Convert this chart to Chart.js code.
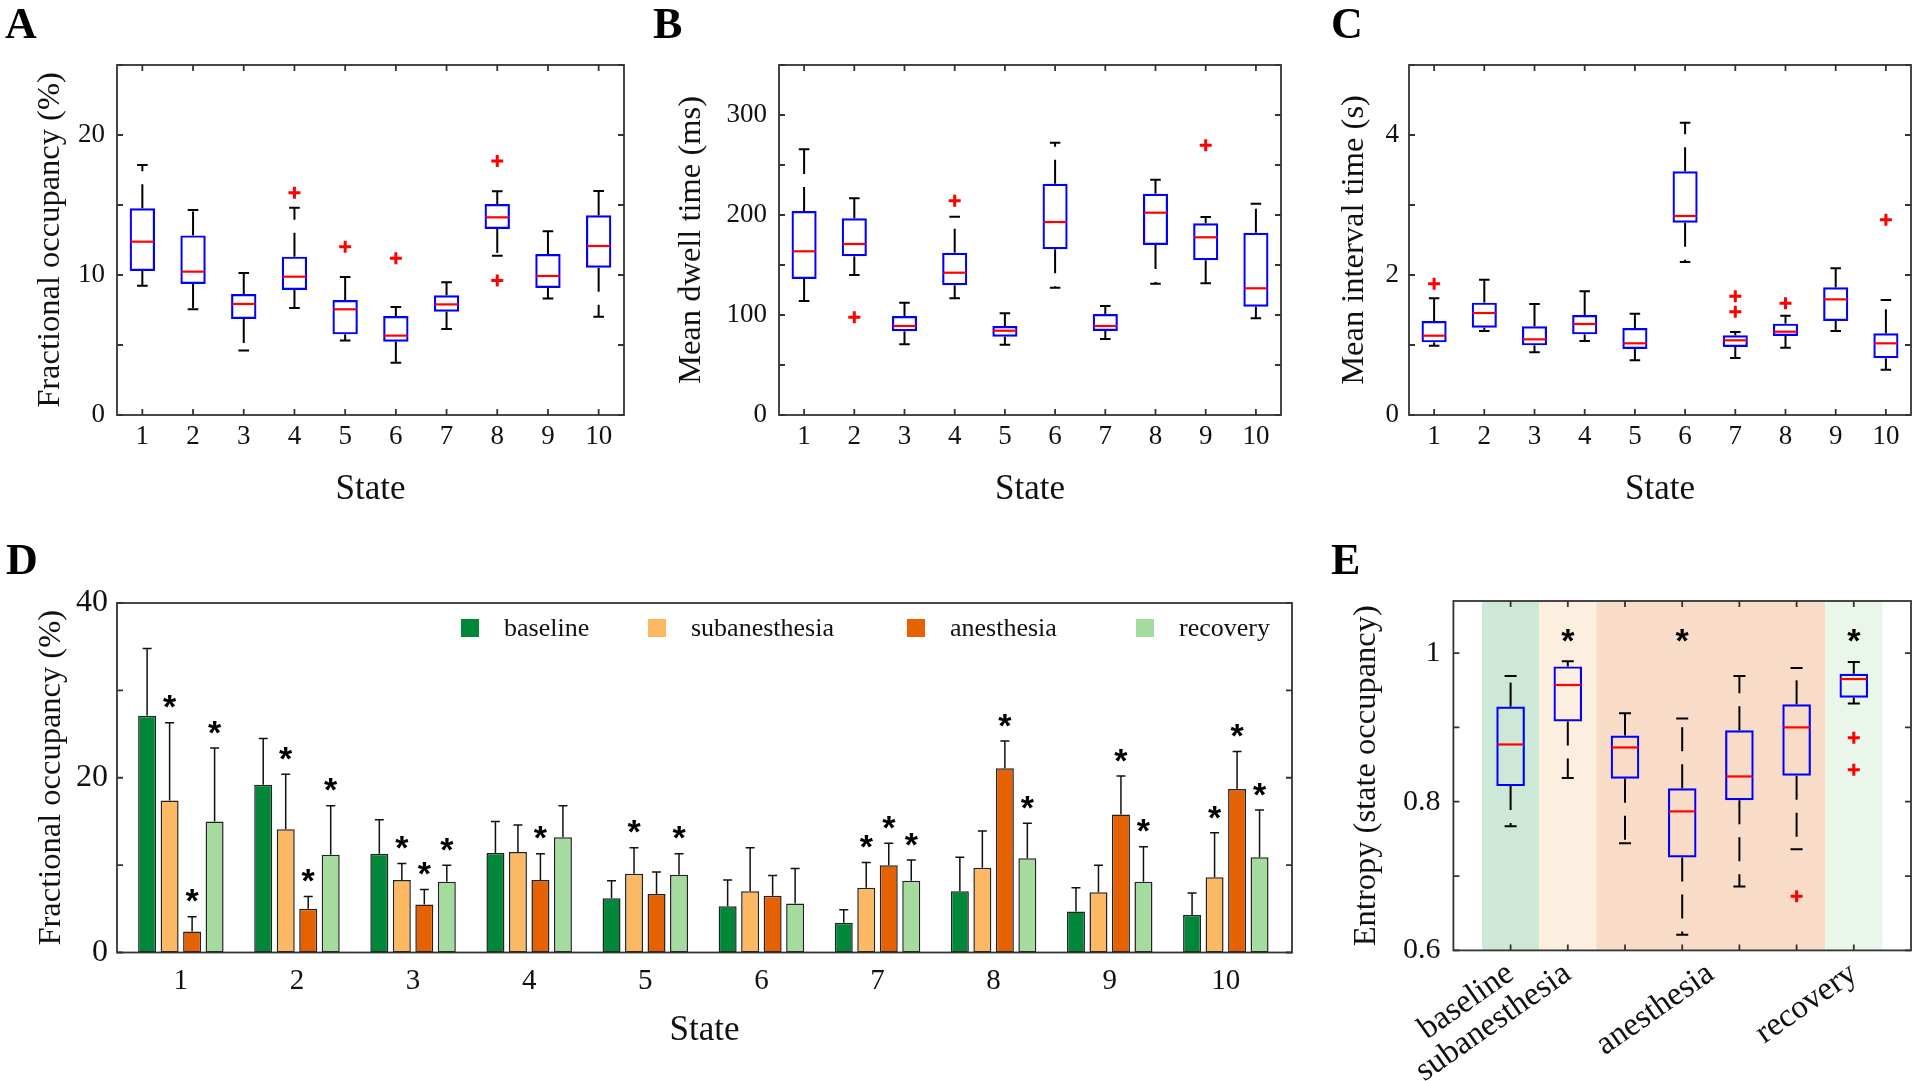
<!DOCTYPE html>
<html><head><meta charset="utf-8">
<script src="https://cdn.jsdelivr.net/npm/chart.js@4.4.1/dist/chart.umd.min.js"></script>
<style>
html,body{margin:0;padding:0;background:#fff;}
#wrap{position:relative;width:1920px;height:1081px;overflow:hidden;background:#fff;}
canvas{position:absolute;}
.lbl{position:absolute;font:bold 44px 'Liberation Serif','Times New Roman',serif;line-height:44px;color:#000;}
</style></head><body>
<div id="wrap">
<canvas id="cA" width="650" height="520" style="left:0px;top:0px"></canvas>
<canvas id="cB" width="640" height="520" style="left:650px;top:0px"></canvas>
<canvas id="cC" width="630" height="520" style="left:1290px;top:0px"></canvas>
<canvas id="cD" width="1300" height="561" style="left:0px;top:520px"></canvas>
<canvas id="cE" width="620" height="561" style="left:1300px;top:520px"></canvas>
<div class="lbl" style="left:5px;top:2px">A</div>
<div class="lbl" style="left:653px;top:2px">B</div>
<div class="lbl" style="left:1331px;top:2px">C</div>
<div class="lbl" style="left:6px;top:538px">D</div>
<div class="lbl" style="left:1331px;top:538px">E</div>
</div>
<script>
// ---------------- data ----------------
const states = [1, 2, 3, 4, 5, 6, 7, 8, 9, 10];

// A: fractional occupancy (%)
const occLo  = [9.24, 7.55, 4.60, 7.64, 5.33, 3.74, 6.14, 11.38, 8.33, 7.02];
const occQ1  = [10.29, 9.36, 6.86, 8.93, 5.76, 5.24, 7.38, 13.29, 9.07, 10.52];
const occMed = [12.38, 10.24, 7.93, 9.88, 7.55, 5.67, 7.90, 14.12, 9.93, 12.07];
const occQ3  = [14.76, 12.83, 8.64, 11.31, 8.21, 7.07, 8.55, 15.07, 11.50, 14.26];
const occHi  = [17.86, 14.64, 10.14, 14.81, 9.86, 7.71, 9.48, 15.98, 13.12, 16.00];
const occOutX = [4, 5, 6, 8, 8];
const occOutY = [15.88, 12.02, 11.19, 18.14, 9.60];

// B: mean dwell time (ms)
const dwellLo  = [114, 140, 70.7, 116.7, 70.3, 127.3, 76, 131.3, 131.7, 96.7];
const dwellQ1  = [136, 158.7, 83.7, 129.7, 78.3, 165.7, 84, 170, 154.7, 108.3];
const dwellMed = [163.7, 171, 89, 142.3, 84.3, 193, 89, 202.3, 177.7, 126.7];
const dwellQ3  = [204, 196.7, 99, 162.3, 89, 231.3, 101, 221.3, 191.7, 182.3];
const dwellHi  = [265.7, 216.7, 112.3, 198.3, 101.7, 272.3, 109, 235.3, 198, 211.3];
const dwellOutX = [2, 4, 9];
const dwellOutY = [97.7, 214.3, 269.7];

// C: mean interval time (s)
const intLo  = [0.99, 1.20, 0.895, 1.057, 0.781, 2.186, 0.814, 0.962, 1.20, 0.648];
const intQ1  = [1.038, 1.248, 0.995, 1.152, 0.943, 2.748, 0.971, 1.129, 1.343, 0.81];
const intMed = [1.133, 1.457, 1.081, 1.30, 1.024, 2.843, 1.067, 1.19, 1.652, 1.024];
const intQ3  = [1.343, 1.605, 1.267, 1.429, 1.243, 3.481, 1.138, 1.305, 1.824, 1.167];
const intHi  = [1.667, 1.933, 1.586, 1.767, 1.448, 4.176, 1.186, 1.419, 2.095, 1.643];
const intOutX = [1, 7, 7, 8, 10];
const intOutY = [1.876, 1.695, 1.476, 1.595, 2.79];

// D: fractional occupancy per condition (mean, SD, significance)
const conditions = ['baseline', 'subanesthesia', 'anesthesia', 'recovery'];
const baseMean = [27.1, 19.2, 11.3, 11.4, 6.2, 5.3, 3.4, 7.0, 4.7, 4.3];
const baseSD   = [7.7, 5.3, 3.9, 3.6, 2.0, 3.0, 1.5, 3.9, 2.7, 2.5];
const subMean  = [17.4, 14.1, 8.3, 11.5, 9.0, 7.0, 7.4, 9.7, 6.9, 8.6];
const subSD    = [8.9, 6.3, 1.9, 3.1, 3.0, 5.0, 2.9, 4.2, 3.1, 5.1];
const anesMean = [2.4, 5.0, 5.5, 8.3, 6.7, 6.5, 10.0, 21.1, 15.8, 18.7];
const anesSD   = [1.7, 1.4, 1.7, 3.0, 2.5, 2.3, 2.5, 3.1, 4.4, 4.3];
const recMean  = [15.0, 11.2, 8.1, 13.2, 8.9, 5.6, 8.2, 10.8, 8.1, 10.9];
const recSD    = [8.4, 5.6, 1.9, 3.6, 2.4, 4.0, 2.4, 4.0, 4.0, 5.4];
const baseSig  = [0, 0, 0, 0, 0, 0, 0, 0, 0, 0];
const subSig   = [1, 1, 1, 0, 1, 0, 1, 0, 0, 1];
const anesSig  = [1, 1, 1, 1, 0, 0, 1, 1, 1, 1];
const recSig   = [1, 1, 1, 0, 1, 0, 1, 1, 1, 1];

// E: entropy (state occupancy)
const ePos = [1, 2, 3, 4, 5, 6, 7];
const entLo  = [0.767, 0.832, 0.744, 0.621, 0.686, 0.736, 0.932];
const entQ1  = [0.821, 0.908, 0.831, 0.725, 0.802, 0.835, 0.940];
const entMed = [0.877, 0.957, 0.873, 0.787, 0.834, 0.900, 0.965];
const entQ3  = [0.928, 0.982, 0.889, 0.818, 0.896, 0.931, 0.972];
const entHi  = [0.969, 0.989, 0.919, 0.912, 0.969, 0.980, 0.988];
const entOutX = [6, 7, 7];
const entOutY = [0.673, 0.886, 0.843];
const entSigPos = [2, 4, 7];
const eLabelPos  = [1, 2, 4.5, 7];
const eLabelText = ['baseline', 'subanesthesia', 'anesthesia', 'recovery'];
const eBandFrom = [0.5, 1.5, 2.5, 6.5];
const eBandTo   = [1.5, 2.5, 6.5, 7.5];

// tick values
const occTicks = [0, 5, 10, 15, 20, 25];
const dwellTicks = [0, 50, 100, 150, 200, 250, 300, 350];
const intTicks = [0, 1, 2, 3, 4, 5];
const dTicks = [0, 10, 20, 30, 40];
const eTicks = [0.6, 0.7, 0.8, 0.9, 1.0];

// ---------------- styling ----------------
const SERIF = "'Liberation Serif','Times New Roman',serif";
Chart.defaults.font.family = SERIF;
Chart.defaults.color = '#111';
Chart.defaults.animation = false;
Chart.defaults.responsive = false;
Chart.defaults.events = [];
Chart.defaults.plugins.legend.display = false;
Chart.defaults.plugins.tooltip.enabled = false;

const condColors = ['#00873a', '#fdb863', '#e66101', '#a6dba0'];
const bandColors = ['#cde8d7', '#fdefdf', '#f9dcc8', '#ebf6ea'];
const FRAME = '#333333';
const YTITLE = 32.5;

function framePlugin(xt, yt) {
  return { id: 'frame', afterDraw(chart) {
    const {ctx, chartArea: a, scales} = chart;
    const L = 6;
    ctx.save();
    ctx.setLineDash([]);
    ctx.strokeStyle = FRAME; ctx.lineWidth = 1.8;
    ctx.strokeRect(a.left, a.top, a.right - a.left, a.bottom - a.top);
    ctx.beginPath();
    xt.forEach(v => { const p = scales.x.getPixelForValue(v);
      ctx.moveTo(p, a.bottom); ctx.lineTo(p, a.bottom - L);
      ctx.moveTo(p, a.top); ctx.lineTo(p, a.top + L); });
    yt.forEach(v => { const p = scales.y.getPixelForValue(v);
      ctx.moveTo(a.left, p); ctx.lineTo(a.left + L, p);
      ctx.moveTo(a.right, p); ctx.lineTo(a.right - L, p); });
    ctx.stroke();
    ctx.restore();
  }};
}

function drawStar(ctx, x, yc) {
  const fs = 34;
  ctx.save();
  ctx.font = "bold " + fs + "px 'Liberation Sans', Arial, sans-serif";
  ctx.textAlign = 'center'; ctx.textBaseline = 'alphabetic';
  ctx.fillStyle = '#000';
  ctx.fillText('*', x, yc + 0.58 * fs);
  ctx.restore();
}

function whiskerPlugin(lo, med, hi) {
  return { id: 'whiskers', afterDatasetsDraw(chart) {
    const {ctx} = chart; const ys = chart.scales.y;
    const meta = chart.getDatasetMeta(0);
    ctx.save();
    meta.data.forEach((el, i) => {
      const x = el.x, w = el.width, cw = w * 0.42;
      const top = Math.min(el.y, el.base), bot = Math.max(el.y, el.base);
      const pHi = ys.getPixelForValue(hi[i]), pLo = ys.getPixelForValue(lo[i]);
      const pMed = ys.getPixelForValue(med[i]);
      ctx.strokeStyle = '#000'; ctx.lineWidth = 2;
      ctx.setLineDash([24, 13]);
      ctx.beginPath(); ctx.moveTo(x, top); ctx.lineTo(x, pHi); ctx.stroke();
      ctx.beginPath(); ctx.moveTo(x, bot); ctx.lineTo(x, pLo); ctx.stroke();
      ctx.setLineDash([]);
      ctx.beginPath();
      ctx.moveTo(x - cw / 2, pHi); ctx.lineTo(x + cw / 2, pHi);
      ctx.moveTo(x - cw / 2, pLo); ctx.lineTo(x + cw / 2, pLo);
      ctx.stroke();
      ctx.strokeStyle = '#ff0000'; ctx.lineWidth = 2.2;
      ctx.beginPath(); ctx.moveTo(x - w / 2 + 1, pMed); ctx.lineTo(x + w / 2 - 1, pMed); ctx.stroke();
    });
    ctx.restore();
  }};
}

function boxChart(id, o) {
  const plugins = [whiskerPlugin(o.lo, o.med, o.hi), framePlugin(o.xTickMarks, o.yTicks)];
  if (o.extra) plugins.unshift(o.extra);
  return new Chart(document.getElementById(id), {
    type: 'bar',
    data: { datasets: [
      { type: 'bar', label: 'box', data: o.x.map((x, i) => ({x: x, y: [o.q1[i], o.q3[i]]})),
        backgroundColor: 'rgba(0,0,0,0)', borderColor: '#0000ff', borderWidth: 2.2,
        borderSkipped: false, barPercentage: 0.5, categoryPercentage: 1, grouped: false },
      { type: 'scatter', label: 'outliers', data: o.outX.map((x, i) => ({x: x, y: o.outY[i]})),
        pointStyle: 'cross', radius: 6, borderColor: '#ff0000', backgroundColor: '#ff0000', borderWidth: 3 }
    ]},
    options: {
      layout: { padding: o.pad },
      scales: {
        x: { type: 'linear', min: o.xMin, max: o.xMax, offset: false,
             grid: { display: false, drawTicks: false, offset: false }, border: { display: false },
             afterBuildTicks: s => { s.ticks = o.xLabelPos.map(v => ({value: v})); },
             afterFit: s => { s.height = o.xH; },
             ticks: { autoSkip: false, maxRotation: o.rot, minRotation: o.rot, padding: o.xPad,
                      font: { size: o.xFont }, color: '#111', callback: o.xCb },
             title: { display: !!o.xTitle, text: o.xTitle || '', font: { size: 35 }, color: '#111',
                      padding: { top: 0, bottom: o.xTitlePad || 0 } } },
        y: { type: 'linear', min: o.yMin, max: o.yMax,
             grid: { display: false, drawTicks: false }, border: { display: false },
             afterBuildTicks: s => { s.ticks = o.yTicks.map(v => ({value: v})); },
             afterFit: s => { s.width = o.yW; },
             ticks: { padding: o.yPad, font: { size: o.yFont }, color: '#111', callback: o.yCb },
             title: { display: true, text: o.yTitle, font: { size: YTITLE }, color: '#111',
                      padding: { top: o.yTitlePad, bottom: 0 } } }
      }
    },
    plugins: plugins
  });
}

// ---------------- A ----------------
boxChart('cA', {
  x: states, lo: occLo, q1: occQ1, med: occMed, q3: occQ3, hi: occHi, outX: occOutX, outY: occOutY,
  pad: { left: 0, top: 65, right: 26, bottom: 0 }, xMin: 0.5, xMax: 10.5, xLabelPos: states, xTickMarks: states,
  xH: 105, rot: 0, xPad: 6, xFont: 27, xCb: v => String(v), xTitle: 'State', xTitlePad: 9,
  yMin: 0, yMax: 25, yTicks: occTicks, yW: 117, yPad: 12, yFont: 27, yCb: v => (v % 10 === 0 ? String(v) : ''),
  yTitle: 'Fractional occupancy (%)', yTitlePad: 31
});
// ---------------- B ----------------
boxChart('cB', {
  x: states, lo: dwellLo, q1: dwellQ1, med: dwellMed, q3: dwellQ3, hi: dwellHi, outX: dwellOutX, outY: dwellOutY,
  pad: { left: 0, top: 65, right: 4, bottom: 0 }, xMin: 0.5, xMax: 10.5, xLabelPos: states, xTickMarks: states,
  xH: 105, rot: 0, xPad: 6, xFont: 27, xCb: v => String(v), xTitle: 'State', xTitlePad: 9,
  yMin: 0, yMax: 350, yTicks: dwellTicks, yW: 129, yPad: 12, yFont: 27, yCb: v => (v % 100 === 0 ? String(v) : ''),
  yTitle: 'Mean dwell time (ms)', yTitlePad: 22
});
// ---------------- C ----------------
boxChart('cC', {
  x: states, lo: intLo, q1: intQ1, med: intMed, q3: intQ3, hi: intHi, outX: intOutX, outY: intOutY,
  pad: { left: 0, top: 65, right: 8, bottom: 0 }, xMin: 0.5, xMax: 10.5, xLabelPos: states, xTickMarks: states,
  xH: 105, rot: 0, xPad: 6, xFont: 27, xCb: v => String(v), xTitle: 'State', xTitlePad: 9,
  yMin: 0, yMax: 5, yTicks: intTicks, yW: 119, yPad: 10, yFont: 27, yCb: v => (v % 2 === 0 ? String(v) : ''),
  yTitle: 'Mean interval time (s)', yTitlePad: 45
});

// ---------------- E ----------------
const bandPlugin = { id: 'bands', beforeDatasetsDraw(chart) {
  const {ctx, chartArea: a, scales: {x}} = chart;
  ctx.save();
  eBandFrom.forEach((f, i) => {
    const x0 = x.getPixelForValue(f), x1 = x.getPixelForValue(eBandTo[i]);
    ctx.fillStyle = bandColors[i];
    ctx.fillRect(x0, a.top + 1, x1 - x0, a.bottom - a.top - 1);
  });
  ctx.restore();
}, afterDraw(chart) {
  const {ctx, chartArea: a, scales: {x}} = chart;
  entSigPos.forEach(p => drawStar(ctx, x.getPixelForValue(p), a.top + 31));
}};
boxChart('cE', {
  x: ePos, lo: entLo, q1: entQ1, med: entMed, q3: entQ3, hi: entHi, outX: entOutX, outY: entOutY,
  pad: { left: 0, top: 81, right: 6, bottom: 0 }, xMin: 0, xMax: 8, xLabelPos: eLabelPos, xTickMarks: ePos,
  xH: 130.6, rot: 35, xPad: 4, xFont: 33, xCb: v => eLabelText[eLabelPos.indexOf(v)] || '', xTitle: '',
  yMin: 0.6, yMax: 1.07, yTicks: eTicks, yW: 153.4, yPad: 13, yFont: 30,
  yCb: v => (Math.abs(Math.round(v * 10) % 2) === 0 ? String(+v.toFixed(1)) : ''),
  yTitle: 'Entropy (state occupancy)', yTitlePad: 47, extra: bandPlugin
});

// ---------------- D ----------------
const dMeans = [baseMean, subMean, anesMean, recMean];
const dSDs = [baseSD, subSD, anesSD, recSD];
const dSigs = [baseSig, subSig, anesSig, recSig];
const legendOffsets = [344, 531, 790, 1019];
const errPlugin = { id: 'errbars', afterDatasetsDraw(chart) {
  const {ctx, chartArea: a} = chart; const ys = chart.scales.y;
  ctx.save();
  dMeans.forEach((m, di) => {
    const meta = chart.getDatasetMeta(di);
    meta.data.forEach((el, j) => {
      const pt = ys.getPixelForValue(m[j] + dSDs[di][j]);
      ctx.strokeStyle = '#111'; ctx.lineWidth = 1.5;
      ctx.beginPath(); ctx.moveTo(el.x, el.y); ctx.lineTo(el.x, pt);
      ctx.moveTo(el.x - 4.5, pt); ctx.lineTo(el.x + 4.5, pt); ctx.stroke();
      if (dSigs[di][j]) drawStar(ctx, el.x, pt - 24);
    });
  });
  // legend
  ctx.font = '26px ' + SERIF; ctx.textBaseline = 'middle'; ctx.textAlign = 'left';
  chart.data.datasets.forEach((ds, i) => {
    const x0 = a.left + legendOffsets[i], y0 = a.top + 16;
    ctx.fillStyle = ds.backgroundColor; ctx.fillRect(x0, y0, 18, 18);
    ctx.fillStyle = '#111'; ctx.fillText(ds.label, x0 + 43, y0 + 10);
  });
  ctx.restore();
}};
new Chart(document.getElementById('cD'), {
  type: 'bar',
  data: { datasets: conditions.map((c, i) => ({
    label: c, data: states.map((s, j) => ({x: s, y: dMeans[i][j]})),
    backgroundColor: condColors[i], borderColor: '#222', borderWidth: 1.5, borderSkipped: false,
    categoryPercentage: 0.775, barPercentage: 0.8 })) },
  options: {
    layout: { padding: { left: 0, top: 83, right: 8, bottom: 0 } },
    scales: {
      x: { type: 'linear', min: 0.45, max: 10.57, offset: false,
           grid: { display: false, drawTicks: false, offset: false }, border: { display: false },
           afterBuildTicks: s => { s.ticks = states.map(v => ({value: v})); },
           afterFit: s => { s.height = 128.5; },
           ticks: { autoSkip: false, maxRotation: 0, minRotation: 0, padding: 11, font: { size: 29 }, color: '#111',
                    callback: v => String(v) },
           title: { display: true, text: 'State', font: { size: 35 }, color: '#111', padding: { top: 0, bottom: 29 } } },
      y: { type: 'linear', min: 0, max: 40,
           grid: { display: false, drawTicks: false }, border: { display: false },
           afterBuildTicks: s => { s.ticks = dTicks.map(v => ({value: v})); },
           afterFit: s => { s.width = 117; },
           ticks: { padding: 9, font: { size: 32 }, color: '#111', callback: v => (v % 20 === 0 ? String(v) : '') },
           title: { display: true, text: 'Fractional occupancy (%)', font: { size: YTITLE }, color: '#111',
                    padding: { top: 32, bottom: 0 } } }
    }
  },
  plugins: [errPlugin, framePlugin([], dTicks)]
});
</script>
</body></html>
